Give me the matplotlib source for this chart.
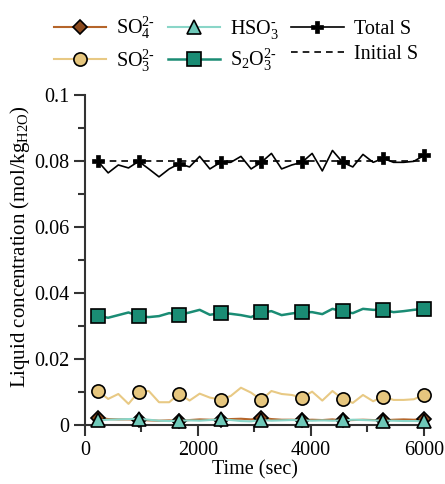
import matplotlib
matplotlib.use("Agg")
import matplotlib.pyplot as plt
from matplotlib.ticker import MultipleLocator, FuncFormatter

plt.rcParams['font.family'] = ['Liberation Serif', 'DejaVu Serif']
plt.rcParams['mathtext.fontset'] = 'custom'
plt.rcParams['mathtext.rm'] = 'Liberation Serif'
plt.rcParams['mathtext.it'] = 'Liberation Serif:italic'
plt.rcParams['mathtext.bf'] = 'Liberation Serif:bold'

time = [230, 410, 590, 770, 950, 1130, 1310, 1490, 1670, 1850, 2030, 2210,
        2400, 2580, 2760, 2940, 3120, 3300, 3480, 3660, 3840, 4020, 4200,
        4380, 4560, 4740, 4920, 5100, 5280, 5460, 5640, 5820, 6000]

total_s = [0.0799, 0.0764, 0.0788, 0.0779, 0.0799, 0.0776, 0.0752, 0.0776,
           0.0792, 0.0782, 0.0814, 0.0776, 0.0796, 0.0796, 0.0814, 0.0776,
           0.0796, 0.0823, 0.0776, 0.0788, 0.0796, 0.0823, 0.0770, 0.0832,
           0.0796, 0.0782, 0.0820, 0.0796, 0.0808, 0.0796, 0.0796, 0.0799,
           0.0817]

s2o3 = [0.0330, 0.0325, 0.0333, 0.0341, 0.0330, 0.0327, 0.0330, 0.0339,
        0.0334, 0.0341, 0.0349, 0.0334, 0.0339, 0.0337, 0.0333, 0.0327,
        0.0341, 0.0345, 0.0333, 0.0338, 0.0342, 0.0342, 0.0336, 0.0352,
        0.0344, 0.0339, 0.0352, 0.0349, 0.0349, 0.0342, 0.0345, 0.0349,
        0.0352]

so3 = [0.0103, 0.0079, 0.0094, 0.0064, 0.0101, 0.0103, 0.0069, 0.0069,
       0.0095, 0.0074, 0.0095, 0.0083, 0.0077, 0.0088, 0.0113, 0.0098,
       0.0076, 0.0103, 0.0094, 0.0091, 0.0083, 0.0101, 0.0074, 0.0103,
       0.0079, 0.0067, 0.0091, 0.0072, 0.0086, 0.0076, 0.0076, 0.0078,
       0.0091]

so4 = [0.0022, 0.0018, 0.0017, 0.0017, 0.0016, 0.0014, 0.0013, 0.0014,
       0.0012, 0.0015, 0.0017, 0.0016, 0.0016, 0.0018, 0.0019, 0.0017,
       0.0022, 0.0018, 0.0016, 0.0016, 0.0015, 0.0016, 0.0015, 0.0017,
       0.0014, 0.0015, 0.0016, 0.0015, 0.0014, 0.0016, 0.0017, 0.0016,
       0.0018]

hso3 = [0.0014, 0.0016, 0.0017, 0.0018, 0.0019, 0.0016, 0.0013, 0.0012,
        0.0013, 0.0014, 0.0013, 0.0015, 0.0017, 0.0015, 0.0012, 0.0011,
        0.0015, 0.0013, 0.0014, 0.0015, 0.0014, 0.0013, 0.0014, 0.0013,
        0.0014, 0.0016, 0.0015, 0.0014, 0.0013, 0.0013, 0.0012, 0.0012,
        0.0011]

initial_s = 0.08

fs = 14.5

fig = plt.figure(figsize=(4.45, 4.84), dpi=100)
ax = fig.add_axes([0.191, 0.1219, 0.7618, 0.6818])

ms = 9.5
h_so4, = ax.plot(time, so4, color='#B5652A', lw=1.5, marker='D', ms=7.5,
                 mfc='#8B4A1E', mec='black', mew=1.2, markevery=4,
                 clip_on=False, zorder=3, label=r'SO$_4^{2\text{-}}$')
h_hso3, = ax.plot(time, hso3, color='#8AD6C8', lw=1.5, marker='^', ms=ms,
                  mfc='#6EC8B8', mec='black', mew=1.2, markevery=4,
                  clip_on=False, zorder=4, label=r'HSO$_3^{\text{-}}$')
h_so3, = ax.plot(time, so3, color='#E8C984', lw=1.5, marker='o', ms=ms,
                 mfc='#E6C67E', mec='black', mew=1.2, markevery=4,
                 clip_on=False, zorder=3, label=r'SO$_3^{2\text{-}}$')
h_s2o3, = ax.plot(time, s2o3, color='#1A8C74', lw=1.8, marker='s', ms=ms,
                  mfc='#1A8C74', mec='black', mew=1.2, markevery=4,
                  clip_on=False, zorder=3, label=r'S$_2$O$_3^{2\text{-}}$')
h_tot, = ax.plot(time, total_s, color='black', lw=1.2, marker='P', ms=9,
                 mfc='black', mec='black', mew=0.5, markevery=4,
                 clip_on=False, zorder=3, label='Total S')
h_init, = ax.plot([time[0], time[-1]], [initial_s, initial_s], color='black',
                  lw=1.2, ls=(0, (4, 3)), zorder=2, label='Initial S')

ax.set_xlim(0, 6000)
ax.set_ylim(0, 0.1)
for s in ['top', 'right']:
    ax.spines[s].set_visible(False)
for s in ['left', 'bottom']:
    ax.spines[s].set_linewidth(1.5)
    ax.spines[s].set_color('#333333')

ax.xaxis.set_major_locator(MultipleLocator(2000))
ax.xaxis.set_minor_locator(MultipleLocator(1000))
ax.yaxis.set_major_locator(MultipleLocator(0.02))
ax.yaxis.set_minor_locator(MultipleLocator(0.01))
ax.yaxis.set_major_formatter(FuncFormatter(lambda v, p: ('%g' % round(v, 4))))
ax.tick_params(which='major', length=8, width=1.5, color='#333333',
               labelsize=fs, direction='out')
ax.tick_params(which='minor', length=5, width=1.5, color='#333333',
               direction='out')

ax.set_xlabel('Time (sec)', fontsize=fs, labelpad=0)
ax.set_ylabel(r'Liquid concentration (mol/kg$_{\mathrm{H2O}}$)', fontsize=15)
ax.yaxis.set_label_coords(-0.155, 0.54)

fig.legend(handles=[h_so4, h_so3, h_hso3, h_s2o3, h_tot, h_init], ncol=3,
           loc='center', bbox_to_anchor=(0.53, 0.909), frameon=False,
           fontsize=fs, handlelength=2.6, handletextpad=0.5,
           columnspacing=0.6, labelspacing=0.3)

fig.savefig('out.png', dpi=100)
